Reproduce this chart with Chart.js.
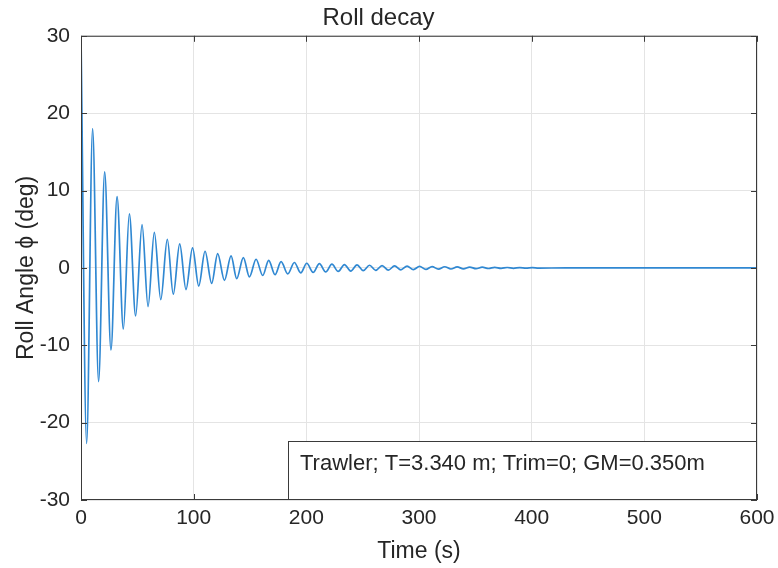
<!DOCTYPE html>
<html>
<head>
<meta charset="utf-8">
<script src="https://cdn.jsdelivr.net/npm/chart.js@4/dist/chart.umd.min.js"></script>
<style>
  html, body { margin: 0; padding: 0; background: #ffffff; }
  #wrap { width: 778px; height: 568px; position: relative; }
</style>
</head>
<body>
<div id="wrap"><canvas id="c" width="778" height="568"></canvas></div>
<script>
// ---- data (extrema of the roll decay record) ----
const timeS = [
  0, 5.0, 10.3, 15.6, 21.0, 26.6, 32.0, 37.6, 42.9, 48.5,
  54.2, 59.5, 65.1, 70.8, 76.6, 81.9, 87.6, 93.2, 99.0, 104.5,
  110.1, 116.0, 121.3, 127.3, 133.2, 138.2, 144.1, 149.5, 155.4, 161.3,
  166.6, 172.2, 177.6, 183.5, 189.4, 195.0, 200.4, 206.0, 211.6, 217.2,
  222.7, 228.3, 233.8, 239.4, 245.0, 250.5, 256.1, 261.6, 267.2, 272.8,
  278.3, 283.9, 289.4, 295.0, 300.5, 306.1, 311.6, 317.2, 322.8, 328.3,
  333.9, 339.4, 345.0, 350.6, 356.1, 361.7, 367.2, 372.8, 378.3, 383.9,
  389.4, 395.0, 400.6, 406.1, 430, 500, 600
];
const rollDeg = [
  30, -22.7, 18.0, -14.7, 12.4, -10.6, 9.2, -7.9, 7.0, -6.2,
  5.6, -5.0, 4.6, -4.1, 3.7, -3.4, 3.1, -2.8, 2.6, -2.35,
  2.15, -2.0, 1.85, -1.6, 1.55, -1.38, 1.34, -1.16, 1.12, -0.98,
  0.98, -0.88, 0.8, -0.78, 0.7, -0.64, 0.6, -0.58, 0.55, -0.52,
  0.48, -0.46, 0.43, -0.41, 0.38, -0.36, 0.34, -0.32, 0.30, -0.28,
  0.26, -0.25, 0.23, -0.22, 0.20, -0.19, 0.17, -0.16, 0.15, -0.14,
  0.13, -0.12, 0.11, -0.10, 0.09, -0.08, 0.07, -0.06, 0.05, -0.05,
  0.04, -0.03, 0.03, -0.02, 0, 0, 0
];
const xTicks = [0, 100, 200, 300, 400, 500, 600];
const yTicks = [-30, -20, -10, 0, 10, 20, 30];
const chartTitle = 'Roll decay';
const xTitle = 'Time (s)';
const yTitle = 'Roll Angle \u03D5 (deg)';
const noteText = 'Trawler; T=3.340 m; Trim=0; GM=0.350m';

const points = timeS.map((t, i) => ({ x: t, y: rollDeg[i] }));

const FONT = "'Liberation Sans', Arial, Helvetica, sans-serif";
const TXT = '#262626';

const framePlugin = {
  id: 'frame',
  afterDraw(chart) {
    const { ctx, chartArea: { left, right, top, bottom }, scales: { x, y } } = chart;
    ctx.save();
    ctx.strokeStyle = '#3a3a3a';
    ctx.lineWidth = 1;
    ctx.beginPath();
    ctx.rect(left + 0.5, top + 0.5, right - left - 1, bottom - top - 1);
    ctx.stroke();
    ctx.beginPath();
    x.ticks.forEach(t => {
      const px = Math.round(x.getPixelForValue(t.value)) + 0.5;
      ctx.moveTo(px, bottom); ctx.lineTo(px, bottom - 6);
      ctx.moveTo(px, top); ctx.lineTo(px, top + 6);
    });
    y.ticks.forEach(t => {
      const py = Math.round(y.getPixelForValue(t.value)) + 0.5;
      ctx.moveTo(left, py); ctx.lineTo(left + 6, py);
      ctx.moveTo(right, py); ctx.lineTo(right - 6, py);
    });
    ctx.stroke();

    // annotation box
    const bx = left + 207, by = bottom - 59, bw = right - bx, bh = 59;
    ctx.fillStyle = '#ffffff';
    ctx.fillRect(bx, by, bw, bh);
    ctx.strokeStyle = '#3a3a3a';
    ctx.strokeRect(bx + 0.5, by + 0.5, bw - 1, bh - 1);
    ctx.fillStyle = TXT;
    ctx.font = '22px ' + FONT;
    ctx.textAlign = 'left';
    ctx.textBaseline = 'middle';
    ctx.fillText(noteText, bx + 12, by + 23);
    ctx.restore();
  }
};

new Chart(document.getElementById('c'), {
  type: 'line',
  data: {
    datasets: [{
      data: points,
      borderColor: '#3088d2',
      borderWidth: 1.7,
      pointRadius: 0,
      fill: false,
      cubicInterpolationMode: 'monotone'
    }]
  },
  options: {
    responsive: false,
    animation: false,
    devicePixelRatio: 1,
    layout: { padding: { left: 0, right: 21, top: 0, bottom: 0 } },
    plugins: {
      legend: { display: false },
      tooltip: { enabled: false },
      title: {
        display: true,
        text: chartTitle,
        color: TXT,
        font: { family: FONT, size: 24, weight: 'normal' },
        padding: { top: 4, bottom: 3 }
      }
    },
    scales: {
      x: {
        type: 'linear',
        min: 0, max: 600,
        afterBuildTicks(scale) { scale.ticks = xTicks.map(v => ({ value: v })); },
        afterFit(scale) { scale.height = 68; scale.paddingRight = 0; scale.paddingLeft = 0; },
        grid: { color: '#e4e4e4', drawTicks: false },
        border: { display: false },
        ticks: { color: TXT, padding: 6, font: { family: FONT, size: 21 }, maxRotation: 0 },
        title: {
          display: true, text: xTitle, color: TXT,
          font: { family: FONT, size: 23 },
          padding: { top: 0, bottom: 3 }
        }
      },
      y: {
        type: 'linear',
        min: -30, max: 30,
        afterBuildTicks(scale) { scale.ticks = yTicks.map(v => ({ value: v })); },
        afterFit(scale) { scale.width = 81; scale.paddingTop = 0; scale.paddingBottom = 0; },
        grid: { color: '#e4e4e4', drawTicks: false },
        border: { display: false },
        ticks: { color: TXT, padding: 11, font: { family: FONT, size: 21 } },
        title: {
          display: true, text: yTitle, color: TXT,
          font: { family: FONT, size: 23 },
          padding: { top: 13, bottom: 0 }
        }
      }
    }
  },
  plugins: [framePlugin]
});
</script>
</body>
</html>
